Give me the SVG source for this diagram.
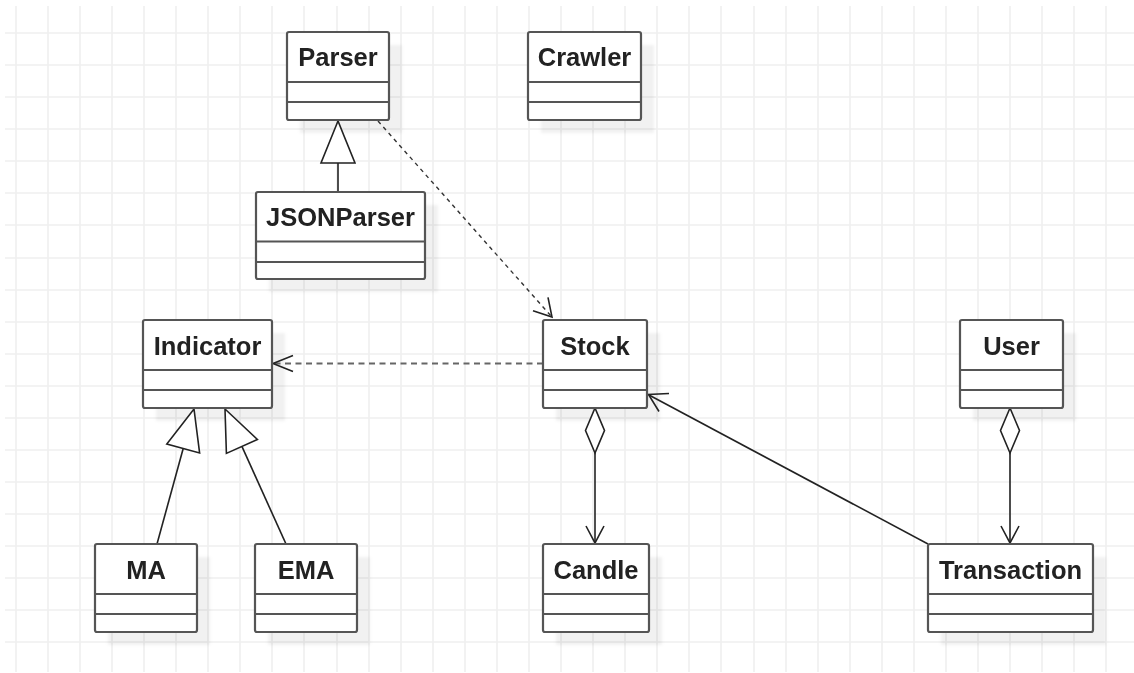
<svg xmlns="http://www.w3.org/2000/svg" width="1134" height="673" viewBox="0 0 1134 673">
<defs>
<style>
.grid{stroke:#efefef;stroke-width:1.6;fill:none}
.box{fill:#fff;stroke:#555;stroke-width:2.2}
.div{stroke:#555;stroke-width:2.2}
.shadow{fill:#000;opacity:0.055}
.t{font-family:"Liberation Sans",Arial,sans-serif;font-weight:bold;font-size:25.5px;fill:#222;text-anchor:middle}
.ln{stroke:#222;stroke-width:1.6;fill:none}
.dash1{stroke:#333;stroke-width:1.4;fill:none;stroke-dasharray:4 4}
.dash2{stroke:#666;stroke-width:2.2;fill:none;stroke-dasharray:6 4.5}
.tri{fill:#fff;stroke:#222;stroke-width:1.6;stroke-linejoin:miter}
</style>
<filter id="blur" x="-20%" y="-20%" width="140%" height="140%"><feGaussianBlur stdDeviation="1.5"/></filter>
</defs>
<rect width="1134" height="673" fill="#fff"/>
<g id="grid">
<path class="grid" d="M16 6V672M48 6V672M80 6V672M112 6V672M144 6V672M176 6V672M208 6V672M240 6V672M272 6V672M304 6V672M337 6V672M369 6V672M401 6V672M433 6V672M465 6V672M497 6V672M529 6V672M561 6V672M593 6V672M625 6V672M657 6V672M689 6V672M721 6V672M754 6V672M786 6V672M818 6V672M850 6V672M882 6V672M914 6V672M946 6V672M978 6V672M1010 6V672M1042 6V672M1074 6V672M1106 6V672"/>
<path class="grid" d="M5 33H1134M5 65H1134M5 97H1134M5 129H1134M5 161H1134M5 193H1134M5 225H1134M5 258H1134M5 290H1134M5 322H1134M5 354H1134M5 386H1134M5 418H1134M5 450H1134M5 482H1134M5 514H1134M5 546H1134M5 578H1134M5 610H1134M5 642H1134"/>
</g>
<g id="shadows" filter="url(#blur)">
<rect class="shadow" x="300" y="45" width="102" height="88"/>
<rect class="shadow" x="541" y="45" width="113" height="88"/>
<rect class="shadow" x="269" y="205" width="169" height="87"/>
<rect class="shadow" x="156" y="333" width="129" height="88"/>
<rect class="shadow" x="556" y="333" width="104" height="88"/>
<rect class="shadow" x="973" y="333" width="103" height="88"/>
<rect class="shadow" x="108" y="557" width="102" height="88"/>
<rect class="shadow" x="268" y="557" width="102" height="88"/>
<rect class="shadow" x="556" y="557" width="106" height="88"/>
<rect class="shadow" x="941" y="557" width="165" height="88"/>
</g>
<g id="connectors">
<g id="c-json-parser">
<line class="ln" x1="338" y1="192" x2="338" y2="163"/>
<polygon class="tri" points="338,121 321,163 355,163"/>
</g>
<g id="c-parser-stock">
<line class="dash1" x1="378" y1="121" x2="551" y2="316"/>
<polyline class="ln" points="548,297.4 552,317 533,310.7"/>
</g>
<g id="c-stock-indicator">
<line class="dash2" x1="543" y1="363.5" x2="274" y2="363.5"/>
<polyline class="ln" points="293,355.5 273,363.5 293,371.5"/>
</g>
<g id="c-ma-indicator">
<line class="ln" x1="157" y1="544" x2="183.2" y2="448.5"/>
<polygon class="tri" points="194,409 199.6,453 166.8,444"/>
</g>
<g id="c-ema-indicator">
<line class="ln" x1="286" y1="544" x2="241.9" y2="446.4"/>
<polygon class="tri" points="225,409 257.4,439.4 226.4,453.4"/>
</g>
<g id="c-stock-candle">
<polygon class="tri" points="595,408 585.5,430.5 595,453 604.5,430.5"/>
<line class="ln" x1="595" y1="453" x2="595" y2="543"/>
<polyline class="ln" points="586,526 595,543 604,526"/>
</g>
<g id="c-user-transaction">
<polygon class="tri" points="1010,408 1000.5,430.5 1010,453 1019.5,430.5"/>
<line class="ln" x1="1010" y1="453" x2="1010" y2="543"/>
<polyline class="ln" points="1001,526 1010,543 1019,526"/>
</g>
<g id="c-transaction-stock">
<line class="ln" x1="928" y1="544" x2="649" y2="395"/>
<polyline class="ln" points="669,393.5 648.5,394.5 659,411.5"/>
</g>
</g>
<g id="Parser">
<rect class="box" x="287" y="32" width="102" height="88" rx="2"/>
<path class="div" d="M287 82H389M287 102H389"/>
<text class="t" x="338" y="66">Parser</text>
</g>
<g id="Crawler">
<rect class="box" x="528" y="32" width="113" height="88" rx="2"/>
<path class="div" d="M528 82H641M528 102H641"/>
<text class="t" x="584.5" y="66">Crawler</text>
</g>
<g id="JSONParser">
<rect class="box" x="256" y="192" width="169" height="87" rx="2"/>
<path class="div" d="M256 241.5H425M256 262H425"/>
<text class="t" x="340.5" y="226">JSONParser</text>
</g>
<g id="Indicator">
<rect class="box" x="143" y="320" width="129" height="88" rx="2"/>
<path class="div" d="M143 370H272M143 390H272"/>
<text class="t" x="207.5" y="355">Indicator</text>
</g>
<g id="Stock">
<rect class="box" x="543" y="320" width="104" height="88" rx="2"/>
<path class="div" d="M543 370H647M543 390H647"/>
<text class="t" x="595" y="355">Stock</text>
</g>
<g id="User">
<rect class="box" x="960" y="320" width="103" height="88" rx="2"/>
<path class="div" d="M960 370H1063M960 390H1063"/>
<text class="t" x="1011.5" y="355">User</text>
</g>
<g id="MA">
<rect class="box" x="95" y="544" width="102" height="88" rx="2"/>
<path class="div" d="M95 594H197M95 614H197"/>
<text class="t" x="146" y="579">MA</text>
</g>
<g id="EMA">
<rect class="box" x="255" y="544" width="102" height="88" rx="2"/>
<path class="div" d="M255 594H357M255 614H357"/>
<text class="t" x="306" y="579">EMA</text>
</g>
<g id="Candle">
<rect class="box" x="543" y="544" width="106" height="88" rx="2"/>
<path class="div" d="M543 594H649M543 614H649"/>
<text class="t" x="596" y="579">Candle</text>
</g>
<g id="Transaction">
<rect class="box" x="928" y="544" width="165" height="88" rx="2"/>
<path class="div" d="M928 594H1093M928 614H1093"/>
<text class="t" x="1010.5" y="579">Transaction</text>
</g>
</svg>
